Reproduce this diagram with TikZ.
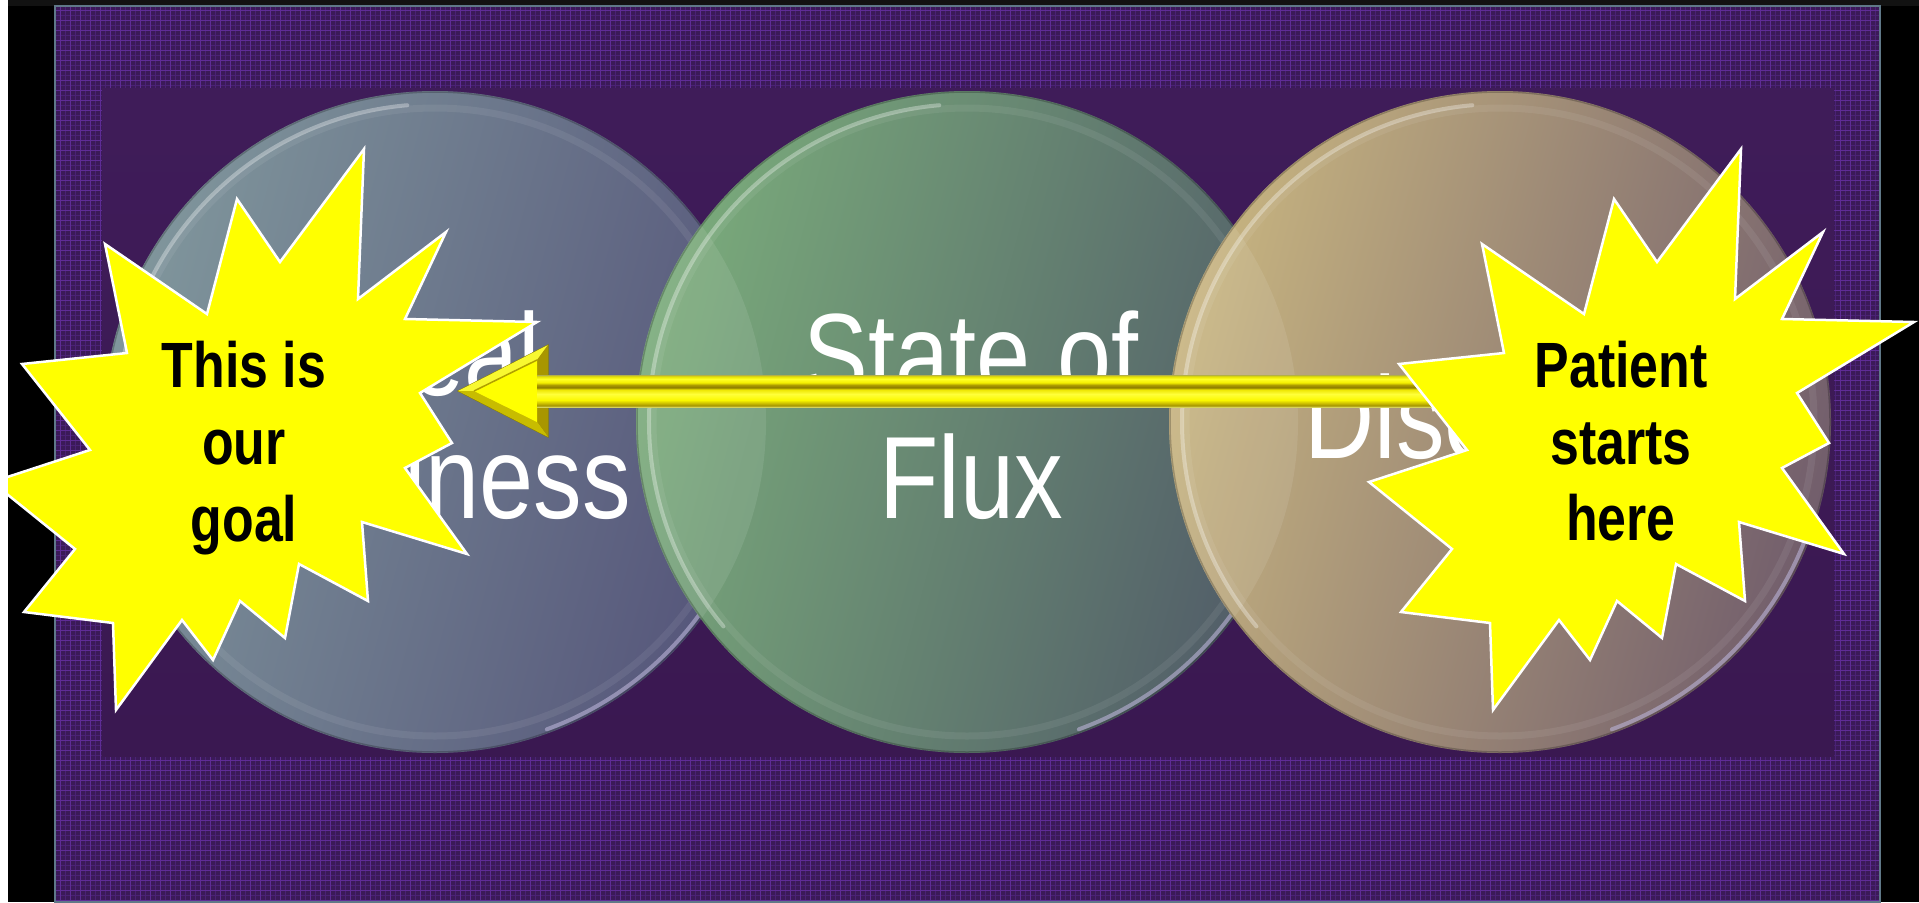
\documentclass[tikz,border=0pt]{standalone}
\usepackage{fontspec}
\usetikzlibrary{calc}
\newfontfamily\circfont{Liberation Sans}[FakeStretch=0.83]
\newfontfamily\burstfont{Liberation Sans}[FakeStretch=0.81]

\definecolor{topstrip}{HTML}{121212}
\definecolor{gridbase}{HTML}{3B1A58}
\definecolor{gridmajor}{HTML}{5F2C96}
\definecolor{gridminor}{HTML}{4A2274}
\definecolor{framebd}{HTML}{5F7888}
\definecolor{inA}{HTML}{3F1C59}
\definecolor{inB}{HTML}{3A1851}
\definecolor{lL}{HTML}{80969C}
\definecolor{lR}{HTML}{55557A}
\definecolor{mL}{HTML}{7AAB7B}
\definecolor{mR}{HTML}{515C68}
\definecolor{rL}{HTML}{C7B480}
\definecolor{rR}{HTML}{725E6C}
\definecolor{rimlav}{HTML}{B9B2D6}
\definecolor{burstyellow}{HTML}{FFFF00}
\definecolor{headout}{HTML}{D8D000}
\definecolor{headtop}{HTML}{F8F830}
\definecolor{headback}{HTML}{A89600}
\definecolor{headbot}{HTML}{C8BC00}
\definecolor{headline}{HTML}{B0A000}
\definecolor{headedge}{HTML}{8A7E00}
\definecolor{sA}{HTML}{D6D25A}
\definecolor{sB}{HTML}{A49400}
\definecolor{sC}{HTML}{CFC200}
\definecolor{sD}{HTML}{FAF800}
\definecolor{sE}{HTML}{FFFF3A}
\definecolor{sF}{HTML}{EDE500}
\definecolor{sG}{HTML}{8C7C00}
\definecolor{sH}{HTML}{AC9C00}
\definecolor{sI}{HTML}{F5F000}
\definecolor{sJ}{HTML}{FFFF28}
\definecolor{sK}{HTML}{E6E200}
\definecolor{sL}{HTML}{B4B044}

\pgfdeclareverticalshading{shaftshade}{100bp}{color(0bp)=(sA); color(25bp)=(sA); color(27.3bp)=(sB); color(31.3bp)=(sC); color(35.9bp)=(sD); color(45.3bp)=(sE); color(52.3bp)=(sF); color(55.5bp)=(sG); color(59.4bp)=(sH); color(63.3bp)=(sI); color(68.8bp)=(sJ); color(72.7bp)=(sK); color(75bp)=(sL); color(100bp)=(sL)}

\newcommand\burstpts{(364,149) -- (358,299) -- (446,232) -- (405,319) -- (537,322) -- (420,393) -- (452,443) -- (405,468) -- (467,554) -- (362,522) -- (368,601) -- (299,564) -- (285,638) -- (240,601) -- (213,660) -- (182,620) -- (116,710) -- (113,623) -- (24,612) -- (75,549) -- (-8,482) -- (90,450) -- (22,364) -- (127,353) -- (105,244) -- (207,314) -- (237,199) -- (280,262) -- cycle}

\tikzset{
  bubble/.style={circle, minimum size=662pt, inner sep=0pt, draw=none},
  circtext/.style={anchor=base, inner sep=0pt, text=white, font=\circfont\fontsize{117pt}{123pt}\selectfont},
  bursttext/.style={anchor=base, inner sep=0pt, text=black, font=\burstfont\bfseries\fontsize{64pt}{77pt}\selectfont},
  burst/.style={fill=burstyellow, draw=white, line width=2.5pt, line join=miter},
  hlarc/.style={white, opacity=0.32, line width=4pt, line cap=round},
  rimarc/.style={rimlav, opacity=0.6, line width=4pt, line cap=round},
  lipring/.style={white, opacity=0.07, line width=7pt},
  edgering/.style={black, opacity=0.22, line width=1.5pt},
  lens/.style={white, opacity=0.09},
}

\begin{document}
\begin{tikzpicture}[x=1pt, y=-1pt]
\useasboundingbox (0,0) rectangle (1919,902);
\clip (0,0) rectangle (1919,902);

% outer background
\fill[black] (0,0) rectangle (1919,902);
\fill[topstrip] (0,0) rectangle (1919,6);

% gridded frame
\fill[gridbase] (55,6) rectangle (1880,902);
\begin{scope}
  \clip (55,6) rectangle (1880,902);
  \draw[gridminor, line width=0.5pt, step=5pt] (50,0) grid (1885,905);
  \draw[gridmajor, line width=0.9pt, step=10pt] (50,0) grid (1885,905);
\end{scope}
\draw[framebd, line width=2pt] (55,6) rectangle (1880,902);

% inner plain panel
\shade[top color=inA, bottom color=inB] (102,88) rectangle (1834,756);

% left circle
\node[bubble, left color=lL, right color=lR, shading angle=75] (cL) at (435,422) {};
\draw[lipring] (cL.center) circle[radius=314pt];
\draw[hlarc] ([shift={(95:318pt)}]cL.center) arc[start angle=95, end angle=220, radius=318pt];
\draw[rimarc] ([shift={(-70:327pt)}]cL.center) arc[start angle=-70, end angle=-20, radius=327pt];
\draw[edgering] (cL.center) circle[radius=330pt];

% middle circle
\node[bubble, left color=mL, right color=mR, shading angle=75] (cM) at (967,422) {};
\begin{scope}
  \clip (cL.center) circle[radius=331pt];
  \fill[lens] (cM.center) circle[radius=331pt];
\end{scope}
\draw[lipring] (cM.center) circle[radius=314pt];
\draw[hlarc] ([shift={(95:318pt)}]cM.center) arc[start angle=95, end angle=220, radius=318pt];
\draw[rimarc] ([shift={(-70:327pt)}]cM.center) arc[start angle=-70, end angle=-20, radius=327pt];
\draw[edgering] (cM.center) circle[radius=330pt];

% right circle
\node[bubble, left color=rL, right color=rR, shading angle=75] (cR) at (1500,422) {};
\begin{scope}
  \clip (cM.center) circle[radius=331pt];
  \fill[lens] (cR.center) circle[radius=331pt];
\end{scope}
\draw[lipring] (cR.center) circle[radius=314pt];
\draw[hlarc] ([shift={(95:318pt)}]cR.center) arc[start angle=95, end angle=220, radius=318pt];
\draw[rimarc] ([shift={(-70:327pt)}]cR.center) arc[start angle=-70, end angle=-20, radius=327pt];
\draw[edgering] (cR.center) circle[radius=330pt];

% circle texts
\node[circtext] (tL1) at (435,395) {Ideal};
\node[circtext] (tL2) at (435,518) {Wellness};
\node[circtext] (tM1) at (971,395) {State of};
\node[circtext] (tM2) at (971,518) {Flux};
\node[circtext] (tR) at (1480,458) {Disease};

% block arrow from right burst to left circle
\coordinate (tip) at (458,391);
\coordinate (tail) at (1440,391);
\fill[headout, draw=headedge, line width=1pt] (tip) -- ($(tip)+(90,-46)$) -- ($(tip)+(90,46)$) -- cycle;
\fill[headtop] (tip) -- ($(tip)+(90,-46)$) -- ($(tip)+(79,-31)$) -- ($(tip)+(16,0)$) -- cycle;
\fill[headback] ($(tip)+(90,-46)$) -- ($(tip)+(90,46)$) -- ($(tip)+(79,31)$) -- ($(tip)+(79,-31)$) -- cycle;
\fill[headbot] ($(tip)+(90,46)$) -- (tip) -- ($(tip)+(16,0)$) -- ($(tip)+(79,31)$) -- cycle;
\fill[burstyellow] ($(tip)+(16,0)$) -- ($(tip)+(79,-31)$) -- ($(tip)+(79,31)$) -- cycle;
\draw[headline, line width=1.5pt] ($(tip)+(16,0)$) -- ($(tip)+(79,-31)$);
\shade[shading=shaftshade] ($(tip)+(79,-16)$) rectangle ($(tail)+(0,16)$);

% starbursts
\filldraw[burst] \burstpts;
\begin{scope}[xshift=1377pt]
  \filldraw[burst] \burstpts;
\end{scope}

\node[bursttext] (g1) at (244,387) {This is};
\node[bursttext] (g2) at (244,464) {our};
\node[bursttext] (g3) at (244,541) {goal};
\node[bursttext] (p1) at (1621,387) {Patient};
\node[bursttext] (p2) at (1621,464) {starts};
\node[bursttext] (p3) at (1621,540) {here};

% white edge strip
\fill[white] (0,0) rectangle (8,902);
\end{tikzpicture}
\end{document}
